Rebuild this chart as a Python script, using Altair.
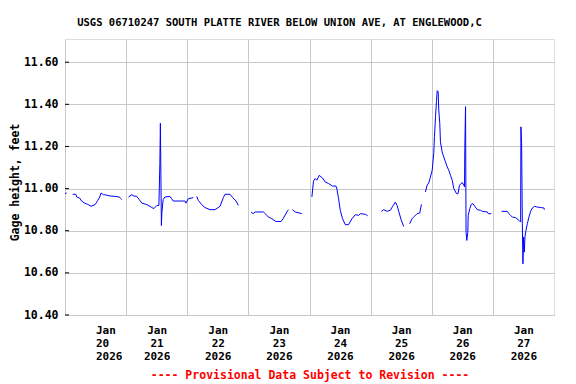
import altair as alt
import pandas as pd

TITLE = "USGS 06710247 SOUTH PLATTE RIVER BELOW UNION AVE, AT ENGLEWOOD,C"
FOOTER = "---- Provisional Data Subject to Revision ----"
Y_LABEL = "Gage height, feet"

# Each inner list is one continuous stretch of record (gaps between them)
seg_times = [
    ["01-20 00:00", "01-20 00:40"],
    ["01-20 03:00", "01-20 04:15", "01-20 04:36", "01-20 05:45", "01-20 06:34", "01-20 07:52",
     "01-20 08:56", "01-20 10:14", "01-20 11:48", "01-20 12:52", "01-20 13:39", "01-20 14:10",
     "01-20 15:06", "01-20 16:01", "01-20 17:42", "01-20 19:40", "01-20 21:15", "01-20 21:43",
     "01-20 22:18"],
    ["01-21 00:56", "01-21 02:14", "01-21 03:02", "01-21 04:13", "01-21 05:07", "01-21 06:11",
     "01-21 08:09", "01-21 09:50", "01-21 10:54", "01-21 12:05", "01-21 12:52", "01-21 13:15",
     "01-21 13:27", "01-21 13:39", "01-21 13:51", "01-21 14:03", "01-21 14:33", "01-21 15:14",
     "01-21 17:11", "01-21 17:52", "01-21 18:29", "01-21 20:27", "01-21 23:05", "01-21 23:29",
     "01-22 00:24", "01-22 02:21"],
    ["01-22 03:42", "01-22 04:20", "01-22 05:40", "01-22 06:58", "01-22 08:56", "01-22 10:54",
     "01-22 12:52", "01-22 14:10", "01-22 14:50", "01-22 16:48", "01-22 17:52", "01-22 19:10",
     "01-22 20:04"],
    ["01-23 01:04", "01-23 01:50", "01-23 02:38", "01-23 05:54", "01-23 06:51", "01-23 07:52",
     "01-23 09:12", "01-23 10:47", "01-23 12:52", "01-23 13:46", "01-23 15:06", "01-23 15:44"],
    ["01-23 17:19", "01-23 18:22", "01-23 21:00"],
    ["01-24 00:56", "01-24 01:34", "01-24 02:14", "01-24 02:54", "01-24 03:49", "01-24 05:07",
     "01-24 06:11", "01-24 07:29", "01-24 09:03", "01-24 10:23", "01-24 10:47", "01-24 11:25",
     "01-24 12:05", "01-24 12:59", "01-24 14:02", "01-24 15:20", "01-24 16:41", "01-24 17:59",
     "01-24 19:17", "01-24 19:57", "01-24 21:55", "01-24 22:49"],
    ["01-25 04:13", "01-25 05:07", "01-25 06:27", "01-25 07:45", "01-25 08:40", "01-25 09:43",
     "01-25 10:23", "01-25 11:01", "01-25 11:58", "01-25 12:59"],
    ["01-25 15:20", "01-25 16:17", "01-25 17:11", "01-25 18:15", "01-25 19:17", "01-25 19:57"],
    ["01-25 21:31", "01-25 22:11", "01-25 22:49", "01-25 23:29", "01-26 00:10", "01-26 00:47",
     "01-26 01:04", "01-26 01:28", "01-26 01:51", "01-26 02:08", "01-26 02:31", "01-26 02:45",
     "01-26 03:09", "01-26 03:25", "01-26 04:05", "01-26 04:43", "01-26 05:23", "01-26 06:04",
     "01-26 06:41", "01-26 07:22", "01-26 08:02", "01-26 08:40", "01-26 09:43", "01-26 10:19",
     "01-26 10:54", "01-26 11:58", "01-26 12:35", "01-26 12:52", "01-26 12:59", "01-26 13:16",
     "01-26 13:28", "01-26 13:46", "01-26 14:10", "01-26 14:19", "01-26 14:57", "01-26 15:30",
     "01-26 16:08", "01-26 16:55", "01-26 17:52", "01-26 19:10", "01-26 19:50", "01-26 21:48",
     "01-26 22:11", "01-26 23:22"],
    ["01-27 03:25", "01-27 05:40", "01-27 06:17", "01-27 06:58", "01-27 07:38", "01-27 08:56",
     "01-27 10:14", "01-27 10:54", "01-27 11:01", "01-27 11:17", "01-27 11:34", "01-27 11:48",
     "01-27 12:04", "01-27 12:21", "01-27 12:35", "01-27 12:59", "01-27 13:32", "01-27 14:10",
     "01-27 14:50", "01-27 15:30", "01-27 16:24", "01-27 17:28", "01-27 18:46", "01-27 20:04",
     "01-27 20:13"],
]

seg_heights = [
    [10.975, 10.980],
    [10.973, 10.973, 10.960, 10.955, 10.940, 10.930, 10.925, 10.916, 10.924, 10.944, 10.960,
     10.979, 10.971, 10.970, 10.965, 10.963, 10.960, 10.955, 10.948],
    [10.960, 10.971, 10.965, 10.963, 10.948, 10.931, 10.924, 10.912, 10.905, 10.920, 10.920,
     11.120, 11.310, 11.070, 10.825, 10.889, 10.948, 10.960, 10.963, 10.952, 10.941, 10.941,
     10.941, 10.931, 10.952, 10.957],
    [10.963, 10.944, 10.924, 10.910, 10.900, 10.900, 10.916, 10.957, 10.973, 10.973, 10.957,
     10.941, 10.920],
    [10.889, 10.881, 10.889, 10.889, 10.878, 10.865, 10.857, 10.844, 10.844, 10.860, 10.889,
     10.900],
    [10.900, 10.889, 10.881],
    [10.960, 11.035, 11.048, 11.040, 11.063, 11.050, 11.031, 11.024, 11.012, 11.012, 10.997,
     10.952, 10.897, 10.857, 10.829, 10.829, 10.857, 10.876, 10.873, 10.881, 10.878, 10.871],
    [10.892, 10.900, 10.892, 10.897, 10.916, 10.936, 10.920, 10.893, 10.852, 10.820],
    [10.833, 10.857, 10.868, 10.881, 10.884, 10.925],
    [10.984, 11.016, 11.027, 11.055, 11.087, 11.167, 11.246, 11.341, 11.412, 11.465, 11.460,
     11.373, 11.310, 11.222, 11.174, 11.150, 11.127, 11.103, 11.087, 11.063, 11.040, 11.000,
     10.976, 10.976, 11.016, 11.029, 11.016, 11.008, 11.190, 11.389, 10.793, 10.754, 10.793,
     10.873, 10.905, 10.925, 10.929, 10.916, 10.900, 10.897, 10.892, 10.889, 10.881, 10.881],
    [10.892, 10.892, 10.881, 10.873, 10.865, 10.862, 10.849, 10.841, 11.293, 11.214, 10.833,
     10.643, 10.770, 10.698, 10.770, 10.801, 10.833, 10.865, 10.893, 10.908, 10.916, 10.912,
     10.910, 10.908, 10.900],
]

y_ticks = [10.40, 10.60, 10.80, 11.00, 11.20, 11.40, 11.60]
day_starts = [20, 21, 22, 23, 24, 25, 26, 27]

rows = []
for i, (ts, hs) in enumerate(zip(seg_times, seg_heights)):
    for t, h in zip(ts, hs):
        rows.append({"time": pd.to_datetime("2026-" + t), "height": h, "seg": i})
df = pd.DataFrame(rows)

FONT = "DejaVu Sans Mono"

x_scale = alt.Scale(domain=[alt.DateTime(year=2026, month=1, date=20),
                            alt.DateTime(year=2026, month=1, date=28)])
y_scale = alt.Scale(domain=[10.40, 11.71], nice=False, zero=False)

line = alt.Chart(df).mark_line(color="#0000ff", strokeWidth=1, interpolate="linear").encode(
    x=alt.X("time:T", scale=x_scale,
            axis=alt.Axis(values=[alt.DateTime(year=2026, month=1, date=d) for d in day_starts],
                          grid=True, gridColor="#c8c8c8", gridWidth=1, ticks=False,
                          domain=False, labelOffset=30.5, labelPadding=9,
                          labelExpr="[timeFormat(datum.value, '%b'), timeFormat(datum.value, '%d'), timeFormat(datum.value, '%Y')]",
                          labelLineHeight=13, labelFont=FONT, labelFontSize=11,
                          labelFontWeight="bold", labelColor="black", labelAngle=0,
                          title=FOOTER, titleColor="#ff0000", titleFont=FONT,
                          titleFontSize=11.5, titleFontWeight="bold", titlePadding=8)),
    y=alt.Y("height:Q", scale=y_scale,
            axis=alt.Axis(values=y_ticks, format=".2f", grid=True, gridColor="#c8c8c8",
                          gridWidth=1, ticks=False, domain=False, labelPadding=7,
                          labelFont=FONT, labelFontSize=11.5, labelFontWeight="bold",
                          labelColor="black", title=Y_LABEL, titleFont=FONT,
                          titleFontSize=11.5, titleFontWeight="bold", titleColor="black",
                          titlePadding=3, titleY=143)),
    detail="seg:N",
)

tick_df = pd.DataFrame({"v": y_ticks})
ticks = alt.Chart(tick_df).mark_rule(color="black", strokeWidth=1).encode(
    y=alt.Y("v:Q", scale=y_scale),
    x=alt.value(0),
    x2=alt.value(4),
)

chart = alt.layer(line, ticks).properties(
    width=489,
    height=276,
    title=alt.TitleParams(TITLE, font=FONT, fontSize=10.5, fontWeight="bold",
                          color="black", anchor="middle", dx=-30, offset=11),
    autosize=alt.AutoSizeParams(type="none"),
    padding={"left": 57, "top": 31, "right": 14, "bottom": 70},
).configure_view(stroke="black", strokeWidth=1.5).configure(background="white")

chart.save("out.html", embed_options={"renderer": "svg", "actions": False})
